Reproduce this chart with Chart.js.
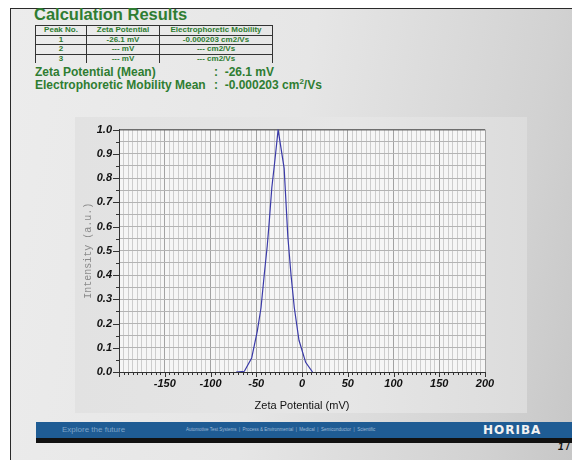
<!DOCTYPE html>
<html>
<head>
<meta charset="utf-8">
<script src="https://cdn.jsdelivr.net/npm/chart.js@4/dist/chart.umd.min.js"></script>
<style>
  html, body { margin: 0; padding: 0; }
  body { width: 572px; height: 460px; position: relative; overflow: hidden; background: #fff;
         font-family: "Liberation Sans", Arial, sans-serif; }
  #slide { position: absolute; left: 10px; top: 8px; width: 600px; height: 470px;
           border-left: 1.5px solid #2a2a2a; border-top: 1.5px solid #2a2a2a;
           background: linear-gradient(100deg, #ececec 0%, #e6e6e6 45%, #d2d2d2 80%, #c2c2c2 100%); }
  .green { color: #2f7d32; font-weight: bold; }
  #title { position: absolute; left: 34px; top: 5px; font-size: 16.5px; line-height: 18px; }
  #results { position: absolute; left: 35px; top: 25px; border-collapse: collapse; }
  #results td { border: 1px solid #333; font-size: 8px; line-height: 8.5px; padding: 0; text-align: center; }
  #results tr:last-child td { border-bottom: none; }
  .mean { position: absolute; left: 35px; font-size: 12px; line-height: 13px; white-space: nowrap; }
  .mean .val { position: absolute; left: 179px; }
  #panel { position: absolute; left: 75px; top: 117px; width: 452px; height: 296px;
           background: linear-gradient(90deg, #e2e2e2, #e6e6e6 60%, #dcdcdc); }
  #wrap { position: absolute; left: 75px; top: 116px; width: 452px; height: 297px; }
  #footer { position: absolute; left: 36px; top: 422px; width: 540px; height: 16px; background: #1f5c94; }
  #footer-dark { position: absolute; left: 36px; top: 438px; width: 540px; height: 5px; background: #111; }
  #footer span { position: absolute; top: 3px; white-space: nowrap; }
  #page { position: absolute; left: 558px; top: 441px; font-size: 10px; font-weight: bold; font-style: italic; color: #111; }
</style>
</head>
<body>
<div id="slide"></div>

<div id="title" class="green">Calculation Results</div>
<table id="results" class="green">
  <tr><td style="width:50px">Peak No.</td><td style="width:72px">Zeta Potential</td><td style="width:112px">Electrophoretic Mobility</td></tr>
  <tr><td>1</td><td>-26.1 mV</td><td>-0.000203 cm2/Vs</td></tr>
  <tr><td>2</td><td>--- mV</td><td>--- cm2/Vs</td></tr>
  <tr><td>3</td><td>--- mV</td><td>--- cm2/Vs</td></tr>
</table>
<div class="mean green" style="top:66px">Zeta Potential (Mean)<span class="val">: &nbsp;-26.1 mV</span></div>
<div class="mean green" style="top:79px">Electrophoretic Mobility Mean<span class="val">: &nbsp;-0.000203 cm<sup style="font-size:8px;line-height:0">2</sup>/Vs</span></div>

<div id="panel"></div>
<div id="wrap"><canvas id="chart" width="452" height="297"></canvas></div>

<div id="footer">
  <span style="left:26px;font-size:8px;color:#7ea4c8;top:3px">Explore the future</span>
  <span style="left:150px;font-size:4.5px;color:#9fbbd6;top:5px">Automotive Test Systems &nbsp;|&nbsp; Process &amp; Environmental &nbsp;|&nbsp; Medical &nbsp;|&nbsp; Semiconductor &nbsp;|&nbsp; Scientific</span>
  <span style="left:447px;font-size:12px;font-weight:bold;color:#f2f2f2;letter-spacing:1px;top:1px;font-family:'DejaVu Sans',sans-serif">HORIBA</span>
</div>
<div id="footer-dark"></div>
<div id="page">1 /</div>

<script>
// Zeta potential distribution (mV) and normalised intensity
const zetaPotential = [-72, -63, -55, -48.8, -44.8, -41.3, -38, -36, -33, -30, -26.1,
                       -19.5, -15.5, -12, -8.4, -3.3, 4, 11.5];
const intensity     = [0, 0.003, 0.058, 0.17, 0.265, 0.40, 0.52, 0.61, 0.76, 0.86, 1.0,
                       0.84, 0.56, 0.40, 0.265, 0.131, 0.04, 0];

// Axis definitions
const xRange = [-200, 200];
const xMinorStep = 5;
const xLabelStep = 50;
const xTickLabels = ['-150', '-100', '-50', '0', '50', '100', '150', '200'];
const yRange = [0, 1];
const yMinorStep = 0.05;
const yTickLabels = ['0.0', '0.1', '0.2', '0.3', '0.4', '0.5', '0.6', '0.7', '0.8', '0.9', '1.0'];

const points = zetaPotential.map((z, i) => ({ x: z, y: intensity[i] }));
const tickFont = { family: '"Liberation Sans", Arial, sans-serif', size: 11, weight: 'bold', style: 'italic' };

// plot background plus hand-sized tick marks (long on labelled values, short otherwise)
const frame = {
  id: 'frame',
  beforeDraw(chart) {
    const { ctx, chartArea: a } = chart;
    ctx.save();
    ctx.fillStyle = '#f6f6f6';
    ctx.fillRect(a.left, a.top, a.right - a.left, a.bottom - a.top);
    ctx.restore();
  },
  afterDraw(chart) {
    const { ctx, chartArea: a, scales: { x, y } } = chart;
    ctx.save();
    ctx.strokeStyle = '#333';
    ctx.lineWidth = 1;
    x.ticks.forEach(t => {
      const px = Math.round(x.getPixelForValue(t.value)) + 0.5;
      const len = t.value % xLabelStep === 0 ? 5 : 3;
      ctx.beginPath(); ctx.moveTo(px, a.bottom); ctx.lineTo(px, a.bottom + len); ctx.stroke();
    });
    y.ticks.forEach(t => {
      const py = Math.round(y.getPixelForValue(t.value)) + 0.5;
      const major = Math.round(t.value * 100) % 10 === 0;
      const len = major ? 6 : 3;
      ctx.beginPath(); ctx.moveTo(a.left - len, py); ctx.lineTo(a.left, py); ctx.stroke();
    });
    ctx.restore();
  }
};

new Chart(document.getElementById('chart'), {
  type: 'scatter',
  data: {
    datasets: [{
      data: points,
      showLine: true,
      borderColor: '#3a3aa8',
      borderWidth: 1.2,
      pointRadius: 0,
      tension: 0
    }]
  },
  options: {
    responsive: false,
    animation: false,
    layout: { padding: { top: 7, right: 42, bottom: 0, left: 0 } },
    plugins: { legend: { display: false }, tooltip: { enabled: false } },
    scales: {
      x: {
        type: 'linear',
        min: xRange[0], max: xRange[1],
        afterFit(s) { s.height = 41; },
        ticks: {
          stepSize: xMinorStep, autoSkip: false, maxRotation: 0, padding: 5,
          color: '#111', font: tickFont,
          callback: v => xTickLabels.includes(String(v)) ? String(v) : ''
        },
        grid: {
          drawTicks: false,
          color: c => c.tick.value % xLabelStep === 0 ? '#a2a2a2' : '#cdcdcd',
          lineWidth: 1
        },
        border: { display: true, color: '#333', width: 1 },
        title: {
          display: true, text: 'Zeta Potential (mV)', color: '#111',
          font: { family: '"Liberation Sans", Arial, sans-serif', size: 11 },
          padding: { top: 0, bottom: 0 }
        }
      },
      y: {
        min: yRange[0], max: yRange[1],
        afterFit(s) { s.width = 44; },
        ticks: {
          stepSize: yMinorStep, autoSkip: false, padding: 7,
          color: '#111', font: tickFont,
          callback: v => {
            const s = v.toFixed(1);
            return Math.round(v * 100) % 10 === 0 && yTickLabels.includes(s) ? s : '';
          }
        },
        grid: {
          drawTicks: false,
          color: c => c.tick.value >= 1 ? '#6e6e6e' : '#b4b4b4',
          lineWidth: c => c.tick.value >= 1 ? 1.5 : 1
        },
        border: { display: true, color: '#333', width: 1 },
        title: {
          display: true, text: 'Intensity (a.u.)', color: '#8a8a8a',
          font: { family: '"Liberation Mono", "DejaVu Sans Mono", monospace', size: 10 },
          padding: { top: 7, bottom: 0 }
        }
      }
    }
  },
  plugins: [frame]
});
</script>
</body>
</html>
